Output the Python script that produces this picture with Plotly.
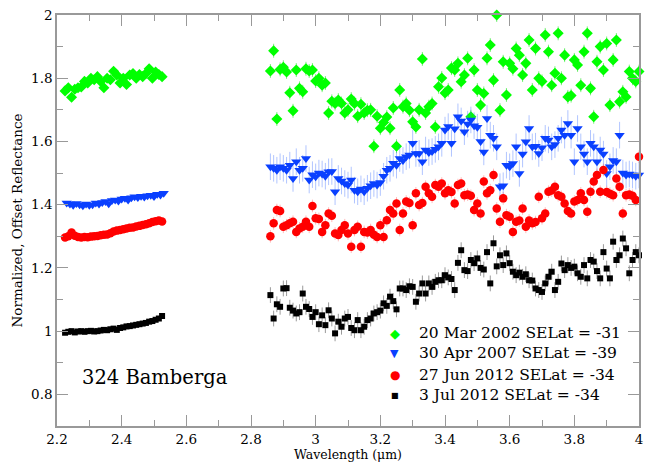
import numpy as np
import plotly.graph_objects as go

# ---------------- data ----------------
wl_left = [round(2.225 + 0.01 * i, 3) for i in range(31)]
wl_left_blue = [round(2.23 + 0.01 * i, 3) for i in range(31)]
wl_right = [round(2.86 + 0.01 * i, 3) for i in range(115)]

green_left = [1.760, 1.770, 1.740, 1.765, 1.770, 1.772, 1.790, 1.785, 1.800, 1.795,
              1.805, 1.790, 1.770, 1.800, 1.795, 1.822, 1.810, 1.785, 1.800, 1.780,
              1.810, 1.815, 1.800, 1.812, 1.805, 1.815, 1.830, 1.800, 1.820, 1.812,
              1.805]
green_right = [1.823, 1.887, 1.671, 1.828, 1.835, 1.820, 1.754, 1.697, 1.826, 1.768,
               1.757, 1.830, 1.823, 1.826, 1.791, 1.800, 1.778, 1.785, 1.690, 1.727,
               1.720, 1.731, 1.720, 1.690, 1.700, 1.734, 1.720, 1.680, 1.718, 1.690,
               1.699, 1.700, 1.585, 1.680, 1.642, 1.660, 1.677, 1.642, 1.706, 1.585,
               1.763, 1.710, 1.720, 1.699, 1.662, 1.646, 1.700, 1.861, 1.690, 1.710,
               1.720, 1.646, 1.773, 1.801, 1.753, 1.763, 1.832, 1.826, 1.847, 1.789,
               1.810, 1.863, 1.678, 1.826, 1.763, 1.715, 1.752, 1.863, 1.905, 1.794,
               2.000, 1.699, 1.852, 1.747, 1.847, 1.830, 1.894, 1.873, 1.810, 1.847,
               1.921, 1.763, 1.894, 1.800, 1.790, 1.937, 1.884, 1.778, 1.816, 1.942,
               1.800, 1.873, 1.741, 1.745, 1.858, 1.842, 1.778, 1.884, 1.942, 1.768,
               1.678, 1.852, 1.900, 1.826, 1.910, 1.715, 1.858, 1.921, 1.726, 1.757,
               1.741, 1.821, 1.800, 1.790, 1.821]

blue_left = [1.405, 1.402, 1.398, 1.404, 1.400, 1.397, 1.402, 1.398, 1.400, 1.405,
             1.402, 1.407, 1.410, 1.403, 1.413, 1.415, 1.412, 1.418, 1.420, 1.415,
             1.422, 1.425, 1.423, 1.427, 1.424, 1.428, 1.430, 1.426, 1.433, 1.431,
             1.436]
blue_right = [1.520, 1.515, 1.509, 1.520, 1.515, 1.509, 1.525, 1.483, 1.536, 1.509,
              1.515, 1.546, 1.478, 1.495, 1.488, 1.500, 1.497, 1.490, 1.504, 1.505,
              1.441, 1.483, 1.475, 1.467, 1.462, 1.478, 1.446, 1.441, 1.450, 1.441,
              1.452, 1.460, 1.467, 1.462, 1.470, 1.490, 1.509, 1.515, 1.531, 1.525,
              1.546, 1.540, 1.552, 1.557, 1.594, 1.562, 1.562, 1.536, 1.573, 1.565,
              1.568, 1.575, 1.583, 1.594, 1.636, 1.647, 1.594, 1.640, 1.678, 1.665,
              1.631, 1.655, 1.668, 1.650, 1.645, 1.600, 1.567, 1.673, 1.620, 1.610,
              1.583, 1.457, 1.460, 1.525, 1.520, 1.530, 1.583, 1.499, 1.560, 1.599,
              1.641, 1.583, 1.585, 1.562, 1.580, 1.610, 1.605, 1.583, 1.590, 1.610,
              1.636, 1.620, 1.657, 1.620, 1.536, 1.641, 1.583, 1.560, 1.536, 1.594,
              1.583, 1.536, 1.573, 1.560, 1.499, 1.520, 1.540, 1.536, 1.620, 1.500,
              1.494, 1.497, 1.494, 1.490, 1.494]

red_left = [1.296, 1.300, 1.312, 1.302, 1.298, 1.296, 1.298, 1.297, 1.299, 1.300,
            1.301, 1.303, 1.305, 1.306, 1.310, 1.315, 1.318, 1.320, 1.322, 1.325,
            1.327, 1.328, 1.331, 1.333, 1.336, 1.338, 1.341, 1.345, 1.348, 1.350,
            1.347]
red_right = [1.300, 1.341, 1.383, 1.380, 1.330, 1.335, 1.341, 1.346, 1.314, 1.325,
             1.330, 1.346, 1.330, 1.396, 1.357, 1.355, 1.314, 1.335, 1.372, 1.365,
             1.309, 1.304, 1.320, 1.335, 1.309, 1.267, 1.320, 1.330, 1.267, 1.314,
             1.312, 1.320, 1.305, 1.298, 1.335, 1.298, 1.351, 1.383, 1.372, 1.404,
             1.320, 1.372, 1.410, 1.405, 1.335, 1.436, 1.399, 1.405, 1.457, 1.436,
             1.425, 1.462, 1.457, 1.467, 1.436, 1.446, 1.440, 1.404, 1.462, 1.467,
             1.430, 1.432, 1.428, 1.383, 1.404, 1.372, 1.473, 1.436, 1.446, 1.494,
             1.388, 1.346, 1.420, 1.367, 1.362, 1.314, 1.346, 1.350, 1.388, 1.330,
             1.350, 1.341, 1.345, 1.425, 1.357, 1.372, 1.441, 1.445, 1.457, 1.430,
             1.425, 1.404, 1.380, 1.372, 1.410, 1.415, 1.436, 1.415, 1.378, 1.441,
             1.473, 1.494, 1.441, 1.510, 1.440, 1.435, 1.430, 1.483, 1.457, 1.372,
             1.430, 1.432, 1.428, 1.415, 1.552]

black_left = [0.995, 0.998, 1.000, 0.996, 0.999, 1.000, 0.998, 1.000, 1.001, 0.999,
              1.000, 1.002, 1.004, 1.003, 1.006, 1.008, 1.004, 1.010, 1.012, 1.015,
              1.016, 1.018, 1.020, 1.022, 1.024, 1.026, 1.030, 1.032, 1.036, 1.040,
              1.048]
black_right = [1.114, 1.040, 1.085, 1.077, 1.135, 1.136, 1.074, 1.065, 1.056, 1.060,
               1.119, 1.077, 1.070, 1.045, 1.060, 1.022, 1.050, 1.019, 1.066, 1.040,
               0.993, 1.030, 1.014, 1.040, 1.045, 1.010, 1.003, 1.035, 1.003, 1.014,
               1.035, 1.040, 1.056, 1.060, 1.065, 1.088, 1.080, 1.109, 1.095, 1.069,
               1.135, 1.135, 1.130, 1.142, 1.140, 1.093, 1.119, 1.151, 1.119, 1.151,
               1.140, 1.156, 1.161, 1.161, 1.177, 1.170, 1.165, 1.130, 1.216, 1.256,
               1.193, 1.190, 1.225, 1.215, 1.230, 1.200, 1.195, 1.250, 1.151, 1.278,
               1.205, 1.240, 1.209, 1.246, 1.215, 1.188, 1.177, 1.185, 1.172, 1.180,
               1.161, 1.160, 1.135, 1.130, 1.124, 1.151, 1.172, 1.188, 1.130, 1.156,
               1.214, 1.193, 1.209, 1.200, 1.204, 1.183, 1.172, 1.209, 1.167, 1.225,
               1.220, 1.190, 1.167, 1.250, 1.198, 1.167, 1.283, 1.225, 1.240, 1.293,
               1.262, 1.183, 1.225, 1.250, 1.240]

# error estimates (left segment, right segment)
err_green = (0.005, 0.022)
err_blue = (0.004, 0.042)
err_red = (0.004, 0.020)
err_black = (0.004, 0.025)

labels = ["20 Mar 2002 SELat = -31", "30 Apr 2007 SELat = -39",
          "27 Jun 2012 SELat = -34", "3 Jul 2012 SELat = -34"]

# ---------------- figure ----------------
FONT = "DejaVu Serif"
series = [
    (wl_left, green_left, green_right, err_green, "diamond", 8.5, "#00ff00", "rgba(0,220,0,0.5)"),
    (wl_left_blue, blue_left, blue_right, err_blue, "triangle-down", 9, "#0a40ff", "rgba(60,110,255,0.4)"),
    (wl_left, red_left, red_right, err_red, "circle", 8.5, "#ff0000", "rgba(255,80,80,0.4)"),
    (wl_left, black_left, black_right, err_black, "square", 6, "#000000", "rgba(0,0,0,0.4)"),
]

fig = go.Figure()
for (xl, yl, yr, err, sym, size, col, ecol), name in zip(series, labels):
    x = list(xl) + list(wl_right)
    y = list(yl) + list(yr)
    e = [err[0]] * len(yl) + [err[1]] * len(yr)
    fig.add_trace(go.Scatter(
        x=x, y=y, mode="markers", name=name, showlegend=False, cliponaxis=False,
        marker=dict(symbol=sym, size=size, color=col, line=dict(width=0)),
        error_y=dict(type="data", array=e, visible=True, color=ecol, thickness=1, width=0),
    ))

axis_common = dict(
    showgrid=False, zeroline=False, showline=True, linecolor="#999999", linewidth=1.5,
    mirror="allticks", ticks="inside", ticklen=11, tickwidth=1.2, tickcolor="#999999",
    tickfont=dict(family=FONT, size=13.5, color="black"),
    minor=dict(ticks="inside", ticklen=6, tickwidth=1.2, tickcolor="#999999", dtick=0.1),
)
fig.update_xaxes(range=[2.2, 4.0], tick0=2.2, dtick=0.2,
                 title=dict(text="Wavelength (μm)", font=dict(family=FONT, size=12.5, color="black"), standoff=3),
                 **axis_common)
fig.update_yaxes(range=[0.7, 2.0], tick0=0.8, dtick=0.2,
                 title=dict(text="Normalized, Offset Reflectance", font=dict(family=FONT, size=13.5, color="black"), standoff=5),
                 **axis_common)

annotations = [dict(xref="paper", yref="paper", x=0.039, y=0.117, xanchor="left", yanchor="middle",
                    text="324 Bamberga", showarrow=False, font=dict(family=FONT, size=19.5, color="black"))]
glyphs = [("◆", "#00ff00", 13), ("▼", "#0a40ff", 11), ("●", "#ff0000", 12), ("■", "#000000", 8)]
rows_y = [0.226, 0.177, 0.124, 0.075]
for (g, c, s), lab, ry in zip(glyphs, labels, rows_y):
    annotations.append(dict(xref="paper", yref="paper", x=0.58, y=ry, xanchor="center", yanchor="middle",
                            text=g, showarrow=False, font=dict(family="DejaVu Sans", size=s, color=c)))
    annotations.append(dict(xref="paper", yref="paper", x=0.619, y=ry, xanchor="left", yanchor="middle",
                            text=lab, showarrow=False, font=dict(family=FONT, size=15.5, color="black")))

fig.update_layout(
    width=646, height=467, margin=dict(l=57, r=3, t=15, b=41),
    paper_bgcolor="white", plot_bgcolor="white", annotations=annotations,
)
fig.write_html("out.html")
